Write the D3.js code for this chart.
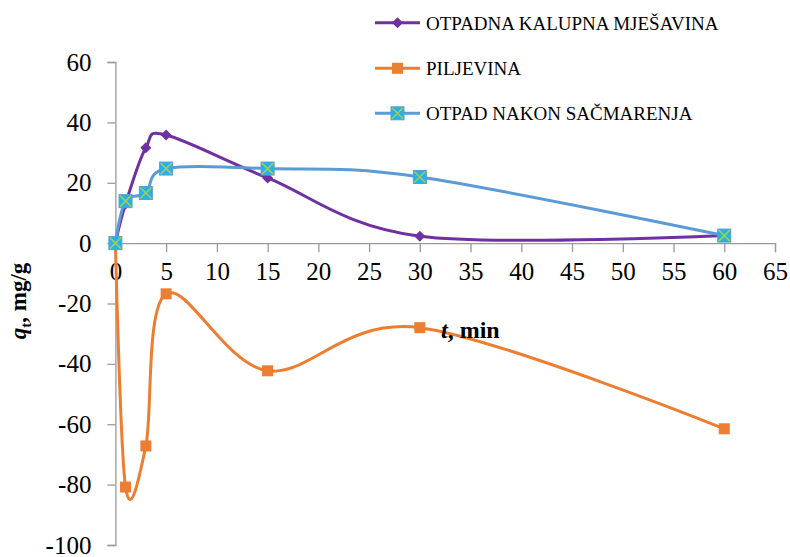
<!DOCTYPE html>
<html>
<head>
<meta charset="utf-8">
<script src="https://cdn.jsdelivr.net/npm/d3@7"></script>
<style>
  html, body { margin: 0; padding: 0; background: #fff; }
  svg { display: block; }
</style>
</head>
<body>
<svg id="chart" width="790" height="557"></svg>
<script>
// Contact time, min
const times = [0, 1, 3, 5, 15, 30, 60];

// Adsorbed amount q_t (mg/g) per sorbent
const kalupna = [0, 13, 31.6, 35.8, 21.6, 2.3, 2.5];
const piljevina = [0, -80.8, -67.2, -16.8, -42.3, -28, -61.5];
const sacmarenje = [0, 13.9, 16.6, 24.7, 24.7, 21.9, 2.5];

const seriesNames = ["OTPADNA KALUPNA MJEŠAVINA", "PILJEVINA", "OTPAD NAKON SAČMARENJA"];

const xTicks = [0, 5, 10, 15, 20, 25, 30, 35, 40, 45, 50, 55, 60, 65];
const yTicks = [60, 40, 20, 0, -20, -40, -60, -80, -100];

const serif = "'Liberation Serif'";
const svg = d3.select("#chart");

const x = d3.scaleLinear().domain([0, 65]).range([115.4, 775]);
const y = d3.scaleLinear().domain([-100, 60]).range([545, 62]);

const axisColor = "#9a9a9a";
const fmt = d => String(d); // plain hyphen-minus for negatives

// Y axis (left, at t = 0)
const yAxis = svg.append("g")
  .attr("transform", `translate(${x(0)},0)`)
  .call(d3.axisLeft(y).tickValues(yTicks).tickSize(8).tickPadding(16).tickFormat(fmt));
yAxis.attr("font-family", null);
yAxis.select(".domain").attr("stroke", axisColor).attr("stroke-width", 1.3);
yAxis.selectAll(".tick line").attr("stroke", axisColor).attr("stroke-width", 1.3);
yAxis.selectAll(".tick text")
  .style("font-family", serif)
  .style("font-size", "25px")
  .attr("fill", "#000");

// X axis (crossing at q = 0)
const xAxis = svg.append("g")
  .attr("transform", `translate(0,${y(0)})`)
  .call(d3.axisBottom(x).tickValues(xTicks).tickSize(9).tickPadding(10).tickFormat(fmt));
xAxis.attr("font-family", null);
xAxis.select(".domain").attr("stroke", axisColor).attr("stroke-width", 1.3);
xAxis.selectAll(".tick line").attr("stroke", axisColor).attr("stroke-width", 1.3);
xAxis.selectAll(".tick text")
  .style("font-family", serif)
  .style("font-size", "25px")
  .attr("fill", "#000");

// Smoothed lines
const line = d3.line()
  .x(d => x(d[0]))
  .y(d => y(d[1]))
  .curve(d3.curveCardinal.tension(0));

const series = [
  { name: seriesNames[0], values: kalupna, color: "#7030a0", marker: "diamond" },
  { name: seriesNames[1], values: piljevina, color: "#ed7d31", marker: "square" },
  { name: seriesNames[2], values: sacmarenje, color: "#5b9bd5", marker: "xsquare" }
];

function drawMarker(g, type, cx, cy, color) {
  if (type === "diamond") {
    const s = 5.5;
    g.append("path")
      .attr("d", `M${cx},${cy - s}L${cx + s},${cy}L${cx},${cy + s}L${cx - s},${cy}Z`)
      .attr("fill", color);
  } else if (type === "square") {
    const s = 5.5;
    g.append("rect")
      .attr("x", cx - s).attr("y", cy - s)
      .attr("width", 2 * s).attr("height", 2 * s)
      .attr("fill", color);
  } else {
    const s = 6.5;
    g.append("rect")
      .attr("x", cx - s).attr("y", cy - s)
      .attr("width", 2 * s).attr("height", 2 * s)
      .attr("fill", "#1fb4ea")
      .attr("stroke", "#5b9bd5").attr("stroke-width", 1);
    g.append("path")
      .attr("d", `M${cx - s + 1},${cy - s + 1}L${cx + s - 1},${cy + s - 1}M${cx + s - 1},${cy - s + 1}L${cx - s + 1},${cy + s - 1}`)
      .attr("stroke", "#a5c95a").attr("stroke-width", 1.6);
  }
}

const plot = svg.append("g");
series.forEach(s => {
  const pts = times.map((t, i) => [t, s.values[i]]);
  plot.append("path")
    .attr("d", line(pts))
    .attr("fill", "none")
    .attr("stroke", s.color)
    .attr("stroke-width", 3);
  const mg = plot.append("g");
  pts.forEach(p => drawMarker(mg, s.marker, x(p[0]), y(p[1]), s.color));
});

// Legend
const legendY = [22.7, 68.3, 113.3];
const legend = svg.append("g");
series.forEach((s, i) => {
  const ly = legendY[i];
  legend.append("line")
    .attr("x1", 375).attr("x2", 420)
    .attr("y1", ly).attr("y2", ly)
    .attr("stroke", s.color).attr("stroke-width", 3);
  drawMarker(legend, s.marker, 397.5, ly, s.color);
  legend.append("text")
    .attr("x", 426).attr("y", ly + 6.8)
    .style("font-family", serif)
    .style("font-size", "19px")
    .attr("fill", "#000")
    .text(s.name);
});

// Axis titles
const yTitle = svg.append("text")
  .attr("transform", "translate(26,301) rotate(-90)")
  .attr("text-anchor", "middle")
  .style("font-family", serif)
  .style("font-size", "23px")
  .style("font-weight", "bold");
yTitle.append("tspan").style("font-style", "italic").text("q");
yTitle.append("tspan").style("font-size", "15px").attr("dy", 5).text("t");
yTitle.append("tspan").attr("dy", -5).text(", mg/g");

const xTitle = svg.append("text")
  .attr("x", 441).attr("y", 338)
  .style("font-family", serif)
  .style("font-size", "24px")
  .style("font-weight", "bold");
xTitle.append("tspan").style("font-style", "italic").text("t");
xTitle.append("tspan").text(", min");
</script>
</body>
</html>
